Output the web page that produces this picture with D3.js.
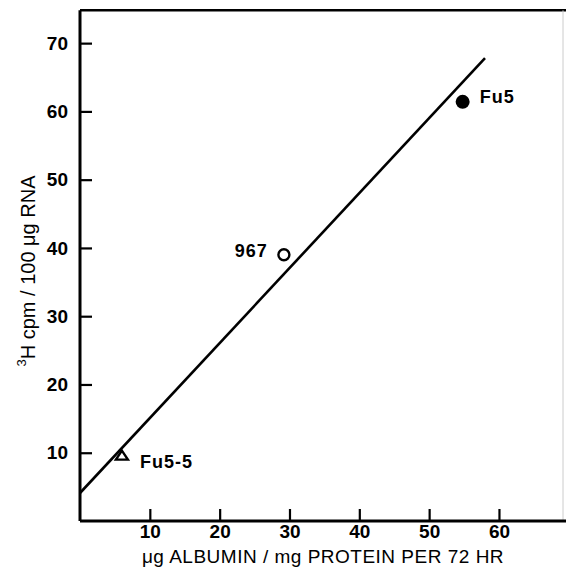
<!DOCTYPE html>
<html><head><meta charset="utf-8">
<script src="https://cdn.jsdelivr.net/npm/d3@7"></script>
<style>body{margin:0;background:#fff}svg{display:block}</style>
</head><body>
<script>
const xTicks = [10, 20, 30, 40, 50, 60];
const yTicks = [10, 20, 30, 40, 50, 60, 70];
const pointNames = ["Fu5-5", "967", "Fu5"];
const pointX = [6.0, 29.2, 54.8];
const pointY = [9.5, 39.0, 61.4];
const pointShape = ["triangle", "open", "filled"];
const lineX = [0, 58];
const lineY = [4.1, 67.8];

const W = 566, H = 574;
const svg = d3.select("body").append("svg").attr("width", W).attr("height", H);
const x = d3.scaleLinear().domain([0, 69.6]).range([80, 566]);
const y = d3.scaleLinear().domain([0, 75]).range([521, 9]);
const font = "'Liberation Sans', Arial, Helvetica, sans-serif";

// frame top & faint right edge
svg.append("line").attr("x1", 80).attr("x2", W).attr("y1", y(74.8)).attr("y2", y(74.8))
  .attr("stroke", "#000").attr("stroke-width", 2.5);
svg.append("line").attr("x1", 563).attr("x2", 563).attr("y1", y(74.8)).attr("y2", y(0))
  .attr("stroke", "#ccc").attr("stroke-width", 1);

// axes
const xAxis = d3.axisBottom(x).tickValues(xTicks).tickSize(-12).tickPadding(4).tickSizeOuter(0);
const gx = svg.append("g").attr("transform", `translate(0,${y(0)})`).call(xAxis);
const yAxis = d3.axisLeft(y).tickValues(yTicks).tickSize(-12).tickPadding(12).tickSizeOuter(0);
const gy = svg.append("g").attr("transform", `translate(${x(0)},0)`).call(yAxis);
[gx, gy].forEach(g => {
  g.select(".domain").attr("stroke", "#000").attr("stroke-width", 3);
  g.selectAll(".tick line").attr("stroke", "#000").attr("stroke-width", 2.2);
  g.selectAll(".tick text").attr("fill", "#000").style("font-family", font)
    .style("font-size", "19px").style("font-weight", "bold");
});
gx.selectAll(".tick text").attr("dy", "0.71em");
gy.select(".domain").attr("d", `M0,${y(74.8)}V${y(0)}`);
gx.select(".domain").attr("d", `M${x(0)},0H${W}`);

// regression line
svg.append("line")
  .attr("x1", x(lineX[0])).attr("y1", y(lineY[0]))
  .attr("x2", x(lineX[1])).attr("y2", y(lineY[1]))
  .attr("stroke", "#000").attr("stroke-width", 2.6);

// points
pointX.forEach((px, i) => {
  const cx = x(px), cy = y(pointY[i]);
  const s = pointShape[i];
  if (s === "filled") {
    svg.append("circle").attr("cx", cx).attr("cy", cy).attr("r", 7).attr("fill", "#000");
  } else if (s === "open") {
    svg.append("circle").attr("cx", cx).attr("cy", cy).attr("r", 5.5)
      .attr("fill", "#fff").attr("stroke", "#000").attr("stroke-width", 2.4);
  } else {
    svg.append("path").attr("d", `M${cx},${cy-5.5}L${cx+6},${cy+3.5}L${cx-6},${cy+3.5}Z`)
      .attr("fill", "#fff").attr("stroke", "#000").attr("stroke-width", 2.4).attr("stroke-linejoin", "miter");
  }
});

// point labels
const lab = (t, xx, yy, anchor) => svg.append("text").attr("x", xx).attr("y", yy)
  .attr("text-anchor", anchor).style("font-family", font).style("font-size", "18px")
  .style("font-weight", "bold").style("letter-spacing", "1px").text(t);
lab(pointNames[0], x(pointX[0]) + 18, y(pointY[0]) + 12, "start");
lab(pointNames[1], x(pointX[1]) - 16, y(pointY[1]) + 2, "end");
lab(pointNames[2], x(pointX[2]) + 17, y(pointY[2]) + 1, "start");

// axis titles
svg.append("text").attr("x", 323).attr("y", 563).attr("text-anchor", "middle")
  .style("font-family", font).style("font-size", "19px").style("letter-spacing", "0.5px")
  .text("μg ALBUMIN / mg PROTEIN PER 72 HR");
const yt = svg.append("text").attr("transform", "translate(32,271) rotate(-90)")
  .attr("text-anchor", "middle").style("font-family", font).style("font-size", "20px");
yt.append("tspan").attr("dy", "-0.45em").style("font-size", "13px").text("3");
yt.append("tspan").attr("dy", "0.45em").text("H cpm / 100 μg RNA");
</script>
</body></html>
